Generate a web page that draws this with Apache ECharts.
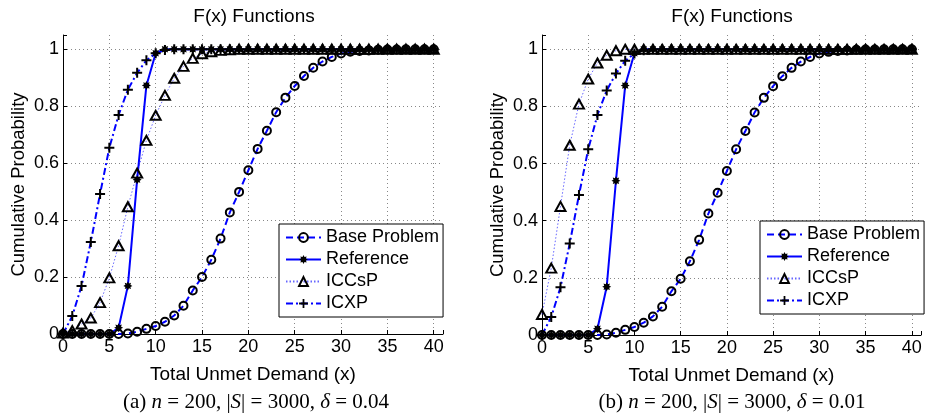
<!DOCTYPE html>
<html><head><meta charset="utf-8">
<script src="https://cdn.jsdelivr.net/npm/echarts@6/dist/echarts.min.js"></script>
<style>html,body{margin:0;padding:0;background:#fff}#c{width:930px;height:415px}</style>
</head><body><div id="c"></div>
<script>
// ---- data ----
const xValues = [0,1,2,3,4,5,6,7,8,9,10,11,12,13,14,15,16,17,18,19,20,21,22,23,24,25,26,27,28,29,30,31,32,33,34,35,36,37,38,39,40];
const seriesNames = ['Base Problem', 'Reference', 'ICCsP', 'ICXP'];
const xTicks = [0,5,10,15,20,25,30,35,40];
const yTicks = [0,0.2,0.4,0.6,0.8,1];

// (a) delta = 0.04
const baseA = [0,0,0,0,0,0,0,0.002,0.008,0.018,0.028,0.043,0.065,0.099,0.153,0.2,0.261,0.335,0.427,0.499,0.575,0.65,0.714,0.779,0.83,0.871,0.906,0.935,0.957,0.973,0.985,0.991,0.994,0.996,0.998,0.999,0.999,1,1,1,1];
const referenceA = [0,0,0,0,0,0,0.022,0.169,0.542,0.873,0.986,1,1,1,1,1,1,1,1,1,1,1,1,1,1,1,1,1,1,1,1,1,1,1,1,1,1,1,1,1,1];
const iccspA = [0.003,0.012,0.035,0.056,0.11,0.197,0.31,0.447,0.565,0.68,0.768,0.838,0.898,0.94,0.968,0.984,0.991,0.996,0.998,1,1,1,1,1,1,1,1,1,1,1,1,1,1,1,1,1,1,1,1,1,1];
const icxpA = [0,0.063,0.169,0.323,0.492,0.654,0.769,0.858,0.917,0.961,0.986,0.997,1,1,1,1,1,1,1,1,1,1,1,1,1,1,1,1,1,1,1,1,1,1,1,1,1,1,1,1,1];

// (b) delta = 0.01
const baseB = [0,0,0,0,0,0,0,0.002,0.008,0.018,0.028,0.043,0.065,0.099,0.153,0.197,0.258,0.333,0.425,0.498,0.574,0.65,0.714,0.779,0.83,0.871,0.906,0.935,0.957,0.973,0.985,0.991,0.994,0.996,0.998,0.999,0.999,1,1,1,1];
const referenceB = [0,0,0,0,0,0,0.022,0.169,0.54,0.873,0.986,1,1,1,1,1,1,1,1,1,1,1,1,1,1,1,1,1,1,1,1,1,1,1,1,1,1,1,1,1,1];
const iccspB = [0.072,0.234,0.45,0.664,0.808,0.896,0.952,0.979,0.995,1,1,1,1,1,1,1,1,1,1,1,1,1,1,1,1,1,1,1,1,1,1,1,1,1,1,1,1,1,1,1,1];
const icxpB = [0,0.063,0.167,0.32,0.49,0.65,0.77,0.856,0.915,0.96,0.985,0.997,1,1,1,1,1,1,1,1,1,1,1,1,1,1,1,1,1,1,1,1,1,1,1,1,1,1,1,1,1];

const panelTitle = 'F(x) Functions';
const xName = 'Total Unmet Demand (x)';
const yName = 'Cumulative Probability';

// ---- style ----
const SANS = '"Liberation Sans", Arial, Helvetica, sans-serif';
const SERIF = '"Liberation Serif", "Times New Roman", serif';
const BLUE = '#0000ff';
const PLUS = 'path://M4,0H6V4H10V6H6V10H4V6H0V4H4Z';
const STAR = 'path://M20,10L15.54,12.3L17.07,17.07L12.3,15.54L10,20L7.7,15.54L2.93,17.07L4.46,12.3L0,10L4.46,7.7L2.93,2.93L7.7,4.46L10,0L12.3,4.46L17.07,2.93L15.54,7.7Z';

const chart = echarts.init(document.getElementById('c'), null, {renderer: 'canvas'});

function pairs(ys) { return xValues.map((x, i) => [x, ys[i]]); }

function xAxisCfg(gi) {
  return {
    type: 'value', gridIndex: gi, min: 0, max: 41, interval: 5,
    name: xName, nameLocation: 'middle', nameGap: 31,
    nameTextStyle: {fontFamily: SANS, fontSize: 19, color: '#000'},
    axisLine: {onZero: false, lineStyle: {color: '#000', width: 1}},
    axisTick: {inside: true, length: 4, lineStyle: {color: '#000'}},
    axisLabel: {fontFamily: SANS, fontSize: 18, color: '#000', margin: 4,
      formatter: v => (xTicks.indexOf(v) >= 0 ? String(v) : '')},
    splitLine: {show: true, showMinLine: false, showMaxLine: false, lineStyle: {color: '#888', type: [1, 3], width: 1}}
  };
}
function yAxisCfg(gi) {
  return {
    type: 'value', gridIndex: gi, min: 0, max: 1.05, interval: 0.2,
    name: yName, nameLocation: 'middle', nameGap: 35, nameRotate: 90,
    nameTextStyle: {fontFamily: SANS, fontSize: 18.5, color: '#000'},
    axisLine: {show: true, onZero: false, lineStyle: {color: '#000', width: 1}},
    axisTick: {show: true, inside: true, length: 4, lineStyle: {color: '#000'}},
    axisLabel: {fontFamily: SANS, fontSize: 18, color: '#000', margin: 4,
      formatter: v => { const t = yTicks.find(k => Math.abs(k - v) < 1e-6); return t === undefined ? '' : String(t); }},
    splitLine: {show: true, showMinLine: false, showMaxLine: false, lineStyle: {color: '#888', type: [1, 3], width: 1}}
  };
}

function seriesFor(gi, base, ref, iccsp, icxp) {
  const common = {type: 'line', xAxisIndex: gi, yAxisIndex: gi, showAllSymbol: true,
    emphasis: {disabled: true}, animation: false};
  return [
    Object.assign({}, common, {name: seriesNames[0], data: pairs(base),
      symbol: 'circle', symbolSize: 8,
      itemStyle: {color: 'rgba(255,255,255,0)', borderColor: '#000', borderWidth: 2},
      lineStyle: {color: BLUE, width: 2, type: [7, 4]}}),
    Object.assign({}, common, {name: seriesNames[1], data: pairs(ref),
      symbol: STAR, symbolSize: 9,
      itemStyle: {color: '#000', borderWidth: 0},
      lineStyle: {color: BLUE, width: 2, type: 'solid'}}),
    Object.assign({}, common, {name: seriesNames[2], data: pairs(iccsp),
      symbol: 'triangle', symbolSize: [10, 9],
      itemStyle: {color: 'rgba(255,255,255,0)', borderColor: '#000', borderWidth: 2},
      lineStyle: {color: BLUE, width: 1, type: [1.5, 2], opacity: 0.6}}),
    Object.assign({}, common, {name: seriesNames[3], data: pairs(icxp),
      symbol: PLUS, symbolSize: 10,
      itemStyle: {color: '#000', borderWidth: 0},
      lineStyle: {color: BLUE, width: 2, type: [7, 3, 2, 3]}})
  ];
}

function legendCfg(left, top) {
  return {
    data: seriesNames, orient: 'vertical', left: left, top: top,
    backgroundColor: '#fff', borderColor: '#000', borderWidth: 1,
    padding: [4.5, 4, 4.5, 6], itemWidth: 35, itemHeight: 11, itemGap: 4,
    textStyle: {fontFamily: SANS, fontSize: 18, color: '#000'},
    selectedMode: false
  };
}

const option = {
  backgroundColor: '#fff',
  animation: false,
  grid: [
    {left: 63, top: 35, width: 380, height: 299, containLabel: false},
    {left: 542, top: 35, width: 379, height: 300, containLabel: false}
  ],
  xAxis: [xAxisCfg(0), xAxisCfg(1)],
  yAxis: [yAxisCfg(0), yAxisCfg(1)],
  legend: [legendCfg(279, 224), legendCfg(760, 221)],
  series: seriesFor(0, baseA, referenceA, iccspA, icxpA).concat(seriesFor(1, baseB, referenceB, iccspB, icxpB)),
  graphic: [
    {type: 'text', x: 254, y: 16.5, style: {text: panelTitle, fontFamily: SANS, fontSize: 19, fill: '#000', align: 'center', verticalAlign: 'middle'}},
    {type: 'text', x: 732, y: 16.5, style: {text: panelTitle, fontFamily: SANS, fontSize: 19, fill: '#000', align: 'center', verticalAlign: 'middle'}},
    {type: 'text', x: 256, y: 402, style: {
      text: '(a) {i|n} = 200, |{i|S}| = 3000, {i|δ} = 0.04',
      fontFamily: SERIF, fontSize: 21, fill: '#000', align: 'center', verticalAlign: 'middle',
      rich: {i: {fontFamily: SERIF, fontSize: 21, fontStyle: 'italic', fill: '#000'}}}},
    {type: 'text', x: 732, y: 402, style: {
      text: '(b) {i|n} = 200, |{i|S}| = 3000, {i|δ} = 0.01',
      fontFamily: SERIF, fontSize: 21, fill: '#000', align: 'center', verticalAlign: 'middle',
      rich: {i: {fontFamily: SERIF, fontSize: 21, fontStyle: 'italic', fill: '#000'}}}}
  ]
};
chart.setOption(option);
</script>
</body></html>
